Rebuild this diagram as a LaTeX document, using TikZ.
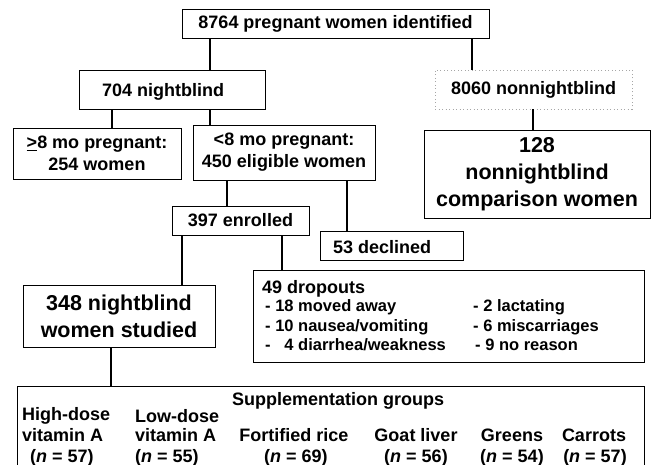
\documentclass[tikz,border=0pt]{standalone}
\usepackage{fontspec}
\setmainfont{Liberation Sans}
\begin{document}
\begin{tikzpicture}[x=1pt,y=-1pt,
  box/.style={draw, line width=0.9pt, inner sep=0pt, align=center,
    font=\bfseries\fontsize{18}{22}\selectfont},
  bigbox/.style={box, font=\bfseries\fontsize{21.5}{27}\selectfont},
  dbox/.style={box, draw=gray!70, line width=0.5pt, dash pattern=on 1pt off 2.5pt},
  conn/.style={line width=2.8pt},
  txt/.style={inner sep=0pt, anchor=base west, font=\bfseries\fontsize{18}{22}\selectfont},
  itm/.style={inner sep=0pt, anchor=base west, font=\bfseries\fontsize{16.5}{20}\selectfont},
  ctxt/.style={inner sep=0pt, anchor=base, font=\bfseries\fontsize{18}{22}\selectfont}]
\useasboundingbox (0,0) rectangle (655,465);
\clip (0,0) rectangle (655,465);

% boxes
\node[box, minimum width=307pt, minimum height=29pt] (top) at (335.5,23.5) {8764 pregnant women identified};
\node[box, minimum width=186pt, minimum height=39pt] (nb) at (172,89.5) {};
\node[ctxt] (nbt) at (163,97) {704 nightblind};
\node[dbox, minimum width=197pt, minimum height=39pt] (nn) at (533.5,89.5) {8060 nonnightblind};
\node[box, minimum width=168pt, minimum height=51pt] (ge) at (97,153.5) {\underline{>}8 mo pregnant:\\254 women};
\node[box, minimum width=182pt, minimum height=55pt] (lt) at (284,152.5) {<8 mo pregnant:\\450 eligible women};
\node[bigbox, minimum width=226pt, minimum height=88pt] (cmp) at (537,174) {128\\nonnightblind\\comparison women};
\node[box, minimum width=137pt, minimum height=29pt] (enr) at (240.5,220.5) {397 enrolled};
\node[box, minimum width=143pt, minimum height=29pt] (dec) at (391.5,245.5) {};
\node[txt] (dect) at (333,253) {53 declined};
\node[box, minimum width=391pt, minimum height=92pt] (drop) at (448.5,316) {};
\node[bigbox, minimum width=192pt, minimum height=62pt] (stud) at (119,316) {348 nightblind\\women studied};
\node[box, minimum width=627pt, minimum height=100pt, anchor=north west] (sup) at (17,386) {};

% connector columns
\coordinate (c210) at (210,0);
\coordinate (c472) at (472,0);
\coordinate (c112) at (112,0);
\coordinate (c533) at (533,0);
\coordinate (c227) at (227,0);
\coordinate (c347) at (347,0);
\coordinate (c182) at (182,0);
\coordinate (c282) at (282,0);
\coordinate (c111) at (111,0);

\draw[conn] (top.south -| c210) -- (nb.north -| c210);
\draw[conn] (top.south -| c472) -- (nn.north -| c472);
\draw[conn] (nb.south -| c112) -- (ge.north -| c112);
\draw[conn] (nb.south -| c210) -- (lt.north -| c210);
\draw[conn] (nn.south -| c533) -- (cmp.north -| c533);
\draw[conn] (lt.south -| c227) -- (enr.north -| c227);
\draw[conn] (lt.south -| c347) -- (dec.north -| c347);
\draw[conn] (enr.south -| c182) -- (stud.north -| c182);
\draw[conn] (enr.south -| c282) -- (drop.north -| c282);
\draw[conn] (stud.south -| c111) -- (sup.north -| c111);

% dropouts
\node[txt] (d0) at (262,293) {49 dropouts};
\node[itm] (d1) at (265,311) {- 18 moved away};
\node[itm] (d2) at (265,331) {- 10 nausea/vomiting};
\node[itm] (d3) at (265,350) {-\ \ \ 4 diarrhea/weakness};
\node[itm] (d4) at (473,311) {- 2 lactating};
\node[itm] (d5) at (473,331) {- 6 miscarriages};
\node[itm] (d6) at (475,350) {- 9 no reason};

% supplementation groups
\node[txt] (sh) at (232,405) {Supplementation groups};
\node[txt] (g1a) at (22,420) {High-dose};
\node[txt] (g1b) at (22,441) {vitamin A};
\node[txt] (g1c) at (30,462) {(\textit{n} = 57)};
\node[txt] (g2a) at (135,422) {Low-dose};
\node[txt] (g2b) at (135,441) {vitamin A};
\node[txt] (g2c) at (135,462) {(\textit{n} = 55)};
\node[ctxt] (g3b) at (294,441) {Fortified rice};
\node[ctxt] (g3c) at (296,462) {(\textit{n} = 69)};
\node[ctxt] (g4b) at (416,441) {Goat liver};
\node[ctxt] (g4c) at (416,462) {(\textit{n} = 56)};
\node[ctxt] (g5b) at (512,441) {Greens};
\node[ctxt] (g5c) at (512,462) {(\textit{n} = 54)};
\node[ctxt] (g6b) at (594,441) {Carrots};
\node[ctxt] (g6c) at (595,462) {(\textit{n} = 57)};
\end{tikzpicture}
\end{document}
